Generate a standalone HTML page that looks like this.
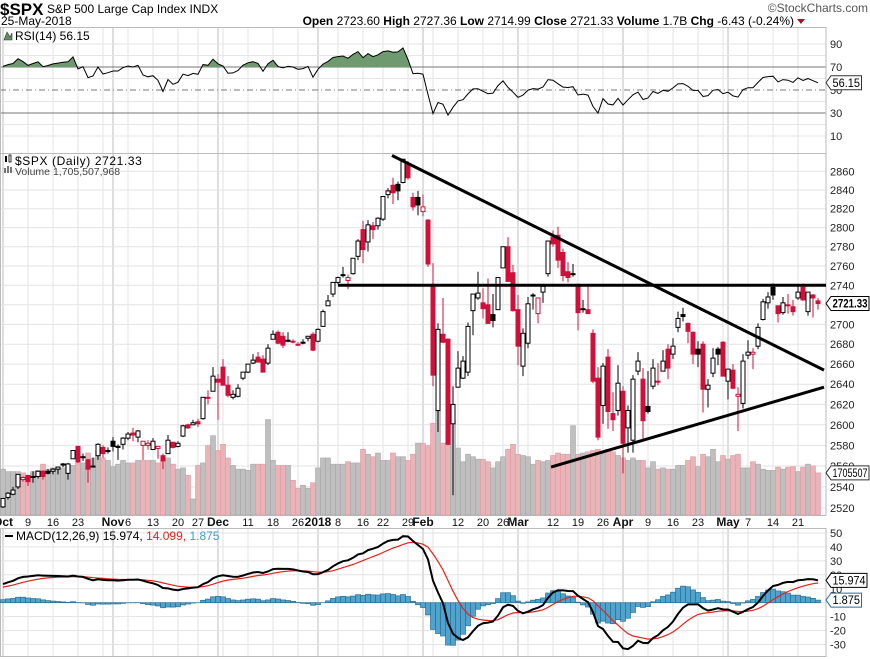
<!DOCTYPE html>
<html><head><meta charset="utf-8"><style>
html,body{margin:0;padding:0;background:#fff;}
svg{display:block;font-family:"Liberation Sans",Arial,sans-serif;}
</style></head><body>
<svg id="chart" width="870" height="659" viewBox="0 0 870 659" xmlns="http://www.w3.org/2000/svg">
<rect x="0" y="0" width="870" height="659" fill="#fff"/>
<g id="grid"></g><g id="marks"></g><g id="labels"></g>
</svg>
<script>
// ---------- DATA ----------
const warmupCloses=[2476,2478,2472,2476,2480,2474,2474,2438,2441,2466,2465,2468,2431,2426,2429,2453,2444,2439,2444,2444,2447,2458,2472,2477,2458,2465,2465,2461,2488,2496,2498,2495,2500,2503,2506,2508,2500,2502,2497,2497,2507,2510,2519];
const opens=[2521,2530,2533,2540,2547,2551,2549,2550,2555,2555,2555,2557,2562,2553,2567,2579,2568,2566,2560,2570,2578,2575,
2584,2578,2581,2587,2592,2588,2580,2580,2576,2577,2570,2572,2583,2579,2589,2600,2600,2603,2606,2627,2633,
2645,2657,2639,2627,2628,2646,2652,2661,2667,2665,2661,2685,2692,2688,2683,2683,2680,2682,2686,2690,
2683,2698,2719,2731,2743,2751,2745,2752,2770,2798,2785,2802,2802,2809,2835,2845,2846,2848,2867,2832,2832,
2817,2808,2741,2614,2690,2685,2601,2637,2646,2652,2714,2727,2722,2720,2710,2715,2758,2780,2753,
2715,2658,2681,2730,2711,2733,2752,2790,2792,2774,2754,2751,2741,2716,2715,2691,2646,2619,2667,2611,2614,
2633,2597,2585,2653,2645,2618,2638,2643,2653,2675,2670,2697,2710,2701,2692,2675,2680,2635,2651,2675,2682,
2643,2654,2628,2621,2669,2670,2678,2705,2722,2738,2719,2712,2719,2718,2727,2738,2713,2730,2724];
const highs=[2529,2535,2540,2552,2550,2551,2555,2555,2556,2557,2558,2559,2563,2563,2575,2579,2572,2567,2568,2582,2580,2578,
2588,2581,2588,2593,2597,2595,2583,2585,2587,2579,2572,2590,2583,2584,2600,2601,2605,2606,2627,2634,2657,
2650,2665,2648,2634,2640,2652,2660,2670,2672,2669,2680,2694,2694,2692,2692,2685,2682,2685,2688,2692,
2696,2715,2730,2743,2749,2759,2751,2768,2788,2807,2808,2806,2811,2833,2842,2853,2849,2873,2871,2837,2839,
2835,2809,2763,2701,2727,2686,2638,2673,2668,2702,2731,2754,2737,2747,2731,2748,2780,2790,2761,
2730,2696,2728,2732,2727,2740,2786,2797,2801,2778,2764,2762,2741,2725,2740,2695,2657,2661,2675,2632,2659,
2638,2619,2649,2672,2656,2653,2665,2661,2674,2680,2686,2713,2717,2702,2693,2683,2683,2645,2676,2677,2683,
2655,2660,2637,2670,2684,2676,2701,2726,2733,2742,2719,2728,2731,2725,2739,2742,2733,2731,2727];
const lows=[2520,2528,2532,2538,2545,2541,2544,2548,2547,2552,2552,2552,2559,2547,2567,2563,2565,2544,2559,2566,2568,2572,
2574,2566,2576,2585,2584,2583,2566,2576,2576,2567,2557,2572,2577,2578,2588,2596,2600,2598,2605,2620,2633,
2605,2639,2627,2625,2627,2644,2651,2660,2662,2652,2659,2685,2680,2676,2682,2681,2678,2680,2683,2673,
2682,2698,2719,2728,2741,2748,2736,2751,2766,2763,2775,2788,2798,2807,2831,2825,2829,2847,2851,2818,2813,
2812,2759,2638,2593,2681,2580,2532,2637,2645,2648,2689,2725,2706,2701,2697,2715,2758,2744,2713,
2659,2648,2676,2715,2701,2722,2749,2780,2758,2744,2743,2749,2694,2712,2711,2641,2585,2601,2596,2594,2609,
2553,2573,2573,2649,2586,2611,2635,2639,2653,2645,2665,2692,2703,2681,2660,2657,2612,2617,2647,2659,2648,
2625,2635,2594,2616,2665,2655,2675,2704,2716,2725,2702,2710,2711,2709,2725,2724,2709,2707,2715];
const closes=[2529,2534,2537,2552,2549,2545,2550,2555,2550,2553,2557,2559,2561,2562,2575,2564,2569,2557,2560,2581,2572,2575,
2579,2579,2587,2591,2590,2594,2584,2582,2584,2579,2565,2585,2578,2582,2599,2597,2602,2601,2627,2626,2648,
2642,2639,2629,2630,2636,2652,2660,2664,2662,2652,2676,2690,2681,2679,2684,2683,2680,2682,2688,2674,
2695,2713,2724,2743,2748,2751,2748,2768,2786,2777,2803,2798,2810,2833,2839,2837,2839,2873,2853,2822,2824,
2822,2762,2649,2695,2682,2581,2620,2656,2663,2698,2731,2732,2716,2701,2704,2748,2780,2744,2714,
2678,2691,2721,2730,2727,2739,2786,2783,2766,2750,2748,2752,2712,2716,2711,2643,2588,2658,2613,2605,2641,
2582,2614,2645,2663,2604,2613,2656,2642,2663,2656,2678,2706,2708,2693,2670,2670,2635,2639,2666,2670,2648,
2655,2636,2630,2663,2672,2671.9,2697,2723,2728,2730,2711,2722,2720,2713,2733,2725,2733,2727,2721.33];
const volumes=[1.85,1.75,1.75,1.75,1.7,1.6,1.75,1.8,2.05,1.85,1.9,1.85,1.9,2.0,2.0,2.1,2.1,2.5,2.3,2.6,2.3,2.2,
1.95,2.05,2.2,2.1,2.1,2.2,2.2,2.2,2.2,2.1,2.2,2.3,2.05,1.85,1.9,1.6,0.65,2.0,2.1,2.8,3.2,
2.6,2.85,2.3,2.0,1.85,1.85,1.8,2.05,2.05,2.05,3.85,2.2,2.0,2.0,2.0,1.4,1.08,1.2,1.08,1.3,
1.9,2.3,2.3,2.05,2.05,2.05,2.15,2.1,2.1,2.65,2.45,2.35,2.5,2.2,2.2,2.5,2.35,2.35,2.2,2.45,2.9,
2.9,2.8,3.7,4.2,2.9,2.9,3.8,2.7,2.15,2.45,2.35,2.25,2.25,2.15,1.9,2.15,2.35,2.65,2.85,
2.45,2.4,2.35,2.05,2.2,2.15,2.2,2.4,2.5,2.45,2.45,3.6,2.45,2.5,2.55,2.6,2.65,2.55,2.65,2.55,2.4,
2.3,2.2,2.3,2.2,2.2,1.9,2.15,1.85,1.9,1.85,1.85,2.0,2.0,2.2,2.35,1.95,2.45,2.35,2.65,2.15,2.4,
2.25,2.4,2.45,1.9,1.9,2.15,2.05,1.85,1.8,1.8,1.93,1.85,1.93,1.95,1.75,1.93,2.05,1.98,1.7];
const holidays=["2017-11-23","2017-12-25","2018-01-01","2018-01-15","2018-02-19","2018-03-30"];
const priceTicks=[2520,2540,2560,2580,2600,2620,2640,2660,2680,2700,2720,2740,2760,2780,2800,2820,2840,2860];
const rsiTicks=[90,70,50,30,10];
const macdTicks=[50,40,30,20,10,0,-10,-20,-30];
// trendline annotations: [startIndex, startPrice, endIndex, endPrice]
const trendDown=[77.8,2877,164.2,2654];
const trendUp=[109.6,2559,164.2,2637];
const resistance=[67,2740,164.6,2740];

// ---------- SCALES ----------
const NS="http://www.w3.org/2000/svg";
const PR=826;
const xI=i=>3+i*5;
const yP=p=>285.3-2660*Math.log(p/2740);
const yV=v=>515-v*24.8;
const yR=v=>90-(v-50)*1.15;
const yM=v=>602.7-v*1.395;
function el(tag,attrs,parent,text){const e=document.createElementNS(NS,tag);for(const k in attrs)e.setAttribute(k,attrs[k]);if(text!==undefined)e.textContent=text;parent.appendChild(e);return e;}
const G=document.getElementById('grid'),M=document.getElementById('marks'),L=document.getElementById('labels');

const dates=[];{let d=new Date(Date.UTC(2017,9,2));while(dates.length<closes.length){const w=d.getUTCDay();const s=d.toISOString().slice(0,10);if(w>0&&w<6&&holidays.indexOf(s)<0)dates.push(new Date(d));d=new Date(d.getTime()+86400000);}}

const all=warmupCloses.concat(closes);const W=warmupCloses.length;
function ema(a,n){const k=2/(n+1);const o=[a[0]];for(let i=1;i<a.length;i++)o.push(a[i]*k+o[i-1]*(1-k));return o;}
const e12=ema(all,12),e26=ema(all,26);const macdAll=all.map((v,i)=>e12[i]-e26[i]);const sigAll=ema(macdAll,9);
const rsiAll=[];{let ag=0,al=0;for(let i=1;i<all.length;i++){const ch=all[i]-all[i-1];const g=Math.max(ch,0),l=Math.max(-ch,0);if(i<=14){ag+=g/14;al+=l/14;}else{ag=(ag*13+g)/14;al=(al*13+l)/14;}rsiAll[i]=al===0?100:100-100/(1+ag/al);}}
const rsi=closes.map((c,i)=>rsiAll[i+W]);const macd=closes.map((c,i)=>macdAll[i+W]);const sig=closes.map((c,i)=>sigAll[i+W]);

// ---------- GRID ----------
const panels=[[27,153],[153,515],[528,656]];
for(let i=0;i<dates.length;i++){
  const newMonth=i===0||dates[i].getUTCMonth()!==dates[i-1].getUTCMonth();
  const newWeek=i===0||dates[i].getUTCDay()<dates[i-1].getUTCDay()||(dates[i]-dates[i-1])>3*86400000;
  if(newMonth||newWeek){panels.forEach(p=>{const ln=el('line',{x1:xI(i),x2:xI(i),y1:p[0],y2:p[1],stroke:newMonth?'#bdbdbd':'#e3e3e3','stroke-width':1},G);});}
}
priceTicks.forEach(t=>{const ln=el('line',{x1:0,x2:PR,y1:yP(t),y2:yP(t),stroke:'#e3e3e3'},G);
 const tx=el('text',{x:830,y:yP(t)+4,'font-size':11,fill:'#222'},L,String(t));});
for(let v=10;v<=90;v+=10){const ln=el('line',{x1:0,x2:PR,y1:yR(v),y2:yR(v),stroke:(v===30||v===70||v===50)?'#777':'#e6e6e6','stroke-dasharray':v===50?'6,3,1,3':'none'},G);}
rsiTicks.forEach(t=>{const tx=el('text',{x:830,y:yR(t)+4,'font-size':11,fill:'#222'},L,String(t));});
macdTicks.forEach(t=>{const ln=el('line',{x1:0,x2:PR,y1:yM(t),y2:yM(t),stroke:'#e3e3e3'},G);
 const tx=el('text',{x:830,y:yM(t)+4,'font-size':11,fill:'#222'},L,String(t));});
panels.forEach(p=>{const r=el('rect',{x:0.5,y:p[0]+0.5,width:PR-0.5,height:p[1]-p[0],fill:'none',stroke:'#bbb'},G);});

// ---------- VOLUME ----------
volumes.forEach((v,i)=>{const down=i>0&&closes[i]<closes[i-1];
 const r=el('rect',{x:xI(i)-2.5,y:yV(v),width:5,height:515-yV(v),fill:down?'#e8b4b8':'#bfbfbf',stroke:down?'#e59aa2':'#a9a9a9','stroke-width':0.6},M);
 });

// ---------- CANDLES ----------
closes.forEach((c,i)=>{const o=opens[i];const down=i>0&&c<closes[i-1];const col=down?'#d0103a':'#000';const hollow=c>=o;
 const wk=el('line',{x1:xI(i),x2:xI(i),y1:yP(highs[i]),y2:yP(lows[i]),stroke:col,'stroke-width':1},M);
 
 const top=yP(Math.max(o,c)),bot=yP(Math.min(o,c));
 const b=el('rect',{x:xI(i)-2,y:top,width:4,height:Math.max(bot-top,1),fill:hollow?'#fff':col,stroke:col,'stroke-width':1},M);
 });

[[trendDown,'downtrend-line'],[trendUp,'uptrend-line'],[resistance,'resistance-line']].forEach(t=>{const a=t[0];
 const ln=el('line',{x1:xI(a[0]),y1:yP(a[1]),x2:xI(a[2]),y2:yP(a[3]),stroke:'#000','stroke-width':3},M);
 });

// ---------- RSI ----------
{let d='';rsi.forEach((v,i)=>{d+=(i?'L':'M')+xI(i)+','+yR(v).toFixed(1);});
 const cp=el('clipPath',{id:'above70'},M);el('rect',{x:0,y:27,width:PR,height:yR(70)-27},cp);
 const area=el('path',{d:d+'L'+xI(rsi.length-1)+','+yR(70)+'L'+xI(0)+','+yR(70)+'Z',fill:'#6f9a6f',stroke:'none','clip-path':'url(#above70)'},M);
 
 const p=el('path',{d:d,fill:'none',stroke:'#000','stroke-width':1},M);}

// ---------- MACD ----------
macd.forEach((v,i)=>{const h=v-sig[i];const r=el('rect',{x:xI(i)-2.5,y:Math.min(yM(h),yM(0)),width:5,height:Math.abs(yM(h)-yM(0)),fill:'#4fa3cc',stroke:'#2b6f96','stroke-width':0.7},M);
 });
{let d1='',d2='';macd.forEach((v,i)=>{d1+=(i?'L':'M')+xI(i)+','+yM(v).toFixed(1);d2+=(i?'L':'M')+xI(i)+','+yM(sig[i]).toFixed(1);});
 const s=el('path',{d:d2,fill:'none',stroke:'#e8201a','stroke-width':1.2},M);
 const m=el('path',{d:d1,fill:'none',stroke:'#000','stroke-width':2},M);}

// ---------- DATE AXIS ----------
{const mNames=['Jan','Feb','Mar','Apr','May','Jun','Jul','Aug','Sep','Oct','Nov','Dec'];const monthX=[];
 dates.forEach((d,i)=>{if(i===0||d.getUTCMonth()!==dates[i-1].getUTCMonth()){monthX.push(xI(i));
  const lbl=d.getUTCMonth()===0?String(d.getUTCFullYear()):mNames[d.getUTCMonth()];
  const t=el('text',{x:xI(i),y:526,'font-size':12,'font-weight':'bold','text-anchor':'middle',fill:'#111'},L,lbl);}});
 dates.forEach((d,i)=>{if(i>0&&(d.getUTCDay()<dates[i-1].getUTCDay()||(d-dates[i-1])>3*86400000)&&d.getUTCMonth()===dates[i-1].getUTCMonth()){
  const x=xI(i);if(monthX.some(m=>Math.abs(m-x)<12))return;
  const t=el('text',{x:x,y:526,'font-size':11,'text-anchor':'middle',fill:'#111'},L,String(d.getUTCDate()));}});}

// ---------- TAGS ----------
function tag(y,text,col,bold,name){const w=Math.min(text.length*5.5+3,38);const g=el('g',{},L);
 
 el('path',{d:`M826,${y} L831,${y-7} L${831+w},${y-7} L${831+w},${y+7} L831,${y+7} Z`,fill:'#fff',stroke:col},g);
 el('text',{x:832.5,y:y+4,'font-size':bold?12:11.5,'font-weight':bold?'bold':'normal',fill:'#000',textLength:w-3,lengthAdjust:'spacingAndGlyphs'},g,text);}
tag(yR(rsi[rsi.length-1]),'56.15','#333',false,'rsi-value-tag');
tag(yP(closes[closes.length-1]),closes[closes.length-1].toFixed(2),'#000',true,'price-value-tag');
tag(yV(volumes[volumes.length-1]),'1705507','#333',false,'volume-value-tag');
tag(yM(macd[macd.length-1]),'15.974','#000',false,'macd-value-tag');
tag(yM(macd[macd.length-1]-sig[sig.length-1]),'1.875','#2b6f96',false,'histogram-value-tag');

// ---------- TEXT LABELS ----------
function tx(x,y,s,attrs,name,parent){const a=Object.assign({x:x,y:y,'font-size':11,fill:'#000'},attrs||{});const t=el('text',a,parent||L,s);return t;}
tx(0,15,'$SPX',{'font-size':17,'font-weight':'bold'},'ticker-symbol');
tx(47,13,'S&P 500 Large Cap Index  INDX',{'font-size':12},'index-name');
tx(868,12,'©StockCharts.com',{'font-size':12,'text-anchor':'end',fill:'#555'},'stockcharts-credit');
tx(1,25,'25-May-2018',{'font-size':12},'chart-date');
{const t=tx(794,25,'',{'font-size':12,'text-anchor':'end'},'ohlc-summary');
 [['Open ','bold'],['2723.60 ',''],['High ','bold'],['2727.36 ',''],['Low ','bold'],['2714.99 ',''],['Close ','bold'],['2721.33 ',''],['Volume ','bold'],['1.7B ',''],['Chg ','bold'],['-6.43 (-0.24%)','']].forEach(p=>{el('tspan',{'font-weight':p[1]||'normal'},t,p[0]);});
 const tri=el('path',{d:'M797,19 L805,19 L801,24 Z',fill:'#b0102a'},L);}
{const ic=el('path',{d:'M4,40 L7,32 L10,37 L12,33 L12,40 Z',fill:'#5f8f5f',stroke:'#333','stroke-width':0.6},L);}
tx(15,40,'RSI(14) 56.15',{'font-size':12},'rsi-legend');
tx(15,165,'$SPX (Daily) 2721.33',{'font-size':12,'letter-spacing':'0.6'},'price-legend');
tx(15,175,'Volume 1,705,507,968',{'font-size':10.5,fill:'#444'},'volume-legend');
{const ic=el('g',{},L);
 el('rect',{x:5,y:156,width:2,height:6,fill:'#000'},ic);el('rect',{x:9,y:155,width:2,height:7,fill:'none',stroke:'#000','stroke-width':0.8},ic);
 el('rect',{x:4,y:168,width:2,height:5,fill:'#777'},ic);el('rect',{x:7,y:166,width:2,height:7,fill:'#777'},ic);el('rect',{x:10,y:167,width:2,height:6,fill:'#777'},ic);}
{const ln=el('line',{x1:5,x2:13,y1:536,y2:536,stroke:'#000','stroke-width':2},L);
 const t=tx(16,540,'',{'font-size':12},'macd-legend');
 el('tspan',{},t,'MACD(12,26,9) 15.974, ');
 el('tspan',{fill:'#e8201a'},t,'14.099, ');
 el('tspan',{fill:'#3a9ad0'},t,'1.875');}
</script>
</body></html>
